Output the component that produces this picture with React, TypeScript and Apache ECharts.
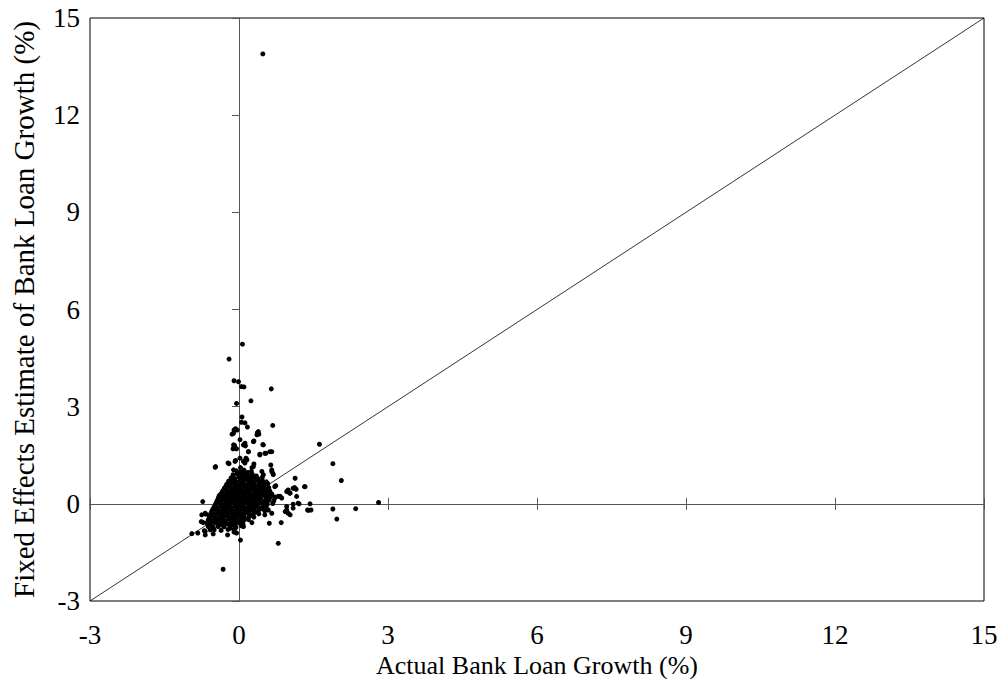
import React, { useEffect, useRef } from "react";
import * as echarts from "echarts";

const xTickLabels = ["-3", "0", "3", "6", "9", "12", "15"];
const yTickLabels = ["-3", "0", "3", "6", "9", "12", "15"];
const xName = "Actual Bank Loan Growth (%)";
const yName = "Fixed Effects Estimate of Bank Loan Growth (%)";

const diagonalLine: [number, number][] = [[-3, -3], [15, 15]];

const outlierPoints: [number, number][] = [
  [0.48, 13.89], [0.07, 4.93], [-0.2, 4.47], [-0.1, 3.8], [-0.01, 3.77], [0.05, 3.62], [0.1, 3.61],
  [0.65, 3.55], [-0.05, 3.1], [0.24, 3.18], [0.06, 2.68], [0.05, 2.52], [0.12, 2.5], [0.68, 2.42],
  [0.17, 2.37], [-0.07, 2.32], [-0.04, 2.28], [-0.1, 2.28], [-0.14, 2.15], [0.37, 2.2], [0.4, 2.15],
  [0.36, 2.13], [0.3, 1.94], [-0.09, 1.8], [-0.12, 1.7], [-0.05, 1.7], [0.48, 1.83], [0.13, 1.79],
  [0.62, 1.61], [0.54, 1.56], [0.42, 1.53], [0.19, 1.61], [0.14, 1.41], [0.16, 1.36], [0.12, 1.32],
  [1.62, 1.84], [-0.47, 1.15], [-0.2, 1.24], [-0.07, 1.34], [0.03, 1.12], [0.3, 1.23], [0.26, 1.12],
  [0.64, 1.2], [0.66, 1.0], [0.68, 0.95], [1.89, 1.24], [2.06, 0.72], [1.13, 0.79], [1.32, 0.53],
  [0.99, 0.43], [1.02, 0.33], [1.12, 0.5], [1.15, 0.45], [0.74, 0.56], [0.83, 0.23], [1.19, 0.02],
  [1.43, 0.0], [1.38, -0.19], [1.45, -0.19], [1.89, -0.16], [1.97, -0.47], [2.35, -0.15], [2.81, 0.04],
  [1.09, -0.01], [0.96, -0.19], [0.99, -0.29], [0.85, -0.58], [0.61, -0.6], [0.79, -1.22], [0.03, -1.12],
  [-0.32, -2.02], [-0.73, 0.07], [-0.95, -0.92], [-0.83, -0.9], [-0.68, -0.96], [-0.52, -0.93],
  [-0.7, -0.83], [-0.58, -0.8], [-0.23, -0.96], [-0.1, -0.87], [-0.72, -0.58], [-0.67, -0.32], [-0.76, -0.55],
  [0.72, 0.53], [1.09, 0.48], [1.33, 0.53], [0.96, 0.38], [1.03, 0.33], [1.16, 0.23], [0.66, 0.28],
  [0.72, 0.18], [0.79, 0.23], [0.86, 0.18], [1.21, 0.0], [0.96, -0.08], [1.09, -0.13], [1.4, -0.2],
  [0.93, -0.24], [1.03, -0.34], [0.59, -0.19], [0.66, -0.29], [0.52, -0.34], [0.26, -0.58], [0.09, -0.7],
  [-0.38, 0.18], [-0.25, 0.28], [-0.68, -0.29], [-0.75, -0.34], [-0.64, -0.58], [-0.52, -0.55],
  [-0.42, -0.49], [-0.68, -0.85], [-0.42, -0.7], [-0.18, -0.75], [-0.08, -0.75], [-0.05, -0.9],
  [-0.48, 1.13], [-0.22, 1.26], [-0.08, 1.31], [-0.11, 1.05], [0.02, 1.41], [0.09, 1.31], [0.12, 1.26],
  [-0.08, 1.72], [-0.11, 1.82], [0.09, 1.82], [0.12, 1.87], [0.29, 1.92], [0.19, 1.61], [0.42, 1.51],
  [0.52, 1.56], [0.66, 1.61], [0.49, 1.82], [0.29, 1.15], [0.46, 1.0], [0.49, 0.9], [0.66, 1.05],
  [0.69, 0.9], [0.39, 2.23], [-0.11, 2.18], [0.02, 1.98],
];

const clusterPoints: [number, number][] = [
  [-0.05, 1.02], [0.03, 0.98], [0.1, 1.04], [0.18, 0.97], [0.25, 1.0],
  [-0.12, 0.9], [-0.04, 0.93], [0.04, 0.88], [0.11, 0.92], [0.19, 0.87], [0.27, 0.91], [0.35, 0.86],
  [-0.16, 0.8], [-0.08, 0.78], [0.0, 0.82], [0.07, 0.79], [0.15, 0.83], [0.22, 0.77], [0.3, 0.8], [0.38, 0.78], [0.47, 0.82],
  [-0.21, 0.7], [-0.13, 0.72], [-0.06, 0.68], [0.02, 0.71], [0.09, 0.69], [0.17, 0.73], [0.24, 0.68], [0.31, 0.71], [0.39, 0.69], [0.47, 0.72], [0.55, 0.68],
  [-0.25, 0.6], [-0.18, 0.58], [-0.1, 0.62], [-0.03, 0.59], [0.05, 0.61], [0.12, 0.58], [0.19, 0.62], [0.26, 0.6], [0.33, 0.57], [0.41, 0.61], [0.5, 0.59], [0.58, 0.62],
  [-0.29, 0.5], [-0.22, 0.52], [-0.14, 0.48], [-0.07, 0.51], [0.0, 0.49], [0.07, 0.52], [0.14, 0.5], [0.21, 0.47], [0.28, 0.51], [0.35, 0.49], [0.43, 0.52], [0.52, 0.48], [0.6, 0.5],
  [-0.33, 0.4], [-0.26, 0.42], [-0.19, 0.38], [-0.12, 0.41], [-0.05, 0.39], [0.02, 0.42], [0.09, 0.38], [0.16, 0.41], [0.23, 0.39], [0.3, 0.42], [0.37, 0.38], [0.45, 0.41], [0.53, 0.39], [0.62, 0.4],
  [-0.37, 0.3], [-0.3, 0.28], [-0.23, 0.32], [-0.16, 0.29], [-0.09, 0.31], [-0.02, 0.28], [0.05, 0.32], [0.12, 0.29], [0.19, 0.31], [0.26, 0.28], [0.33, 0.32], [0.41, 0.29], [0.49, 0.31], [0.57, 0.28], [0.66, 0.31],
  [-0.41, 0.2], [-0.34, 0.22], [-0.27, 0.18], [-0.2, 0.21], [-0.13, 0.19], [-0.06, 0.22], [0.01, 0.18], [0.08, 0.21], [0.15, 0.19], [0.22, 0.22], [0.29, 0.18], [0.36, 0.21], [0.44, 0.19], [0.53, 0.22], [0.63, 0.2], [0.73, 0.21],
  [-0.44, 0.1], [-0.37, 0.08], [-0.3, 0.12], [-0.23, 0.09], [-0.16, 0.11], [-0.09, 0.08], [-0.02, 0.12], [0.05, 0.09], [0.12, 0.11], [0.19, 0.08], [0.26, 0.12], [0.33, 0.09], [0.41, 0.11], [0.5, 0.08], [0.6, 0.11], [0.7, 0.09],
  [-0.47, 0.0], [-0.4, 0.02], [-0.33, -0.02], [-0.26, 0.01], [-0.19, -0.01], [-0.12, 0.02], [-0.05, -0.02], [0.02, 0.01], [0.09, -0.01], [0.16, 0.02], [0.23, -0.02], [0.3, 0.01], [0.38, -0.01], [0.47, 0.02], [0.57, -0.01], [0.68, 0.01],
  [-0.5, -0.1], [-0.43, -0.12], [-0.36, -0.08], [-0.29, -0.11], [-0.22, -0.09], [-0.15, -0.12], [-0.08, -0.08], [-0.01, -0.11], [0.06, -0.09], [0.13, -0.12], [0.2, -0.08], [0.27, -0.11], [0.35, -0.09], [0.44, -0.12], [0.55, -0.1],
  [-0.54, -0.2], [-0.47, -0.18], [-0.4, -0.22], [-0.33, -0.19], [-0.26, -0.21], [-0.19, -0.18], [-0.12, -0.22], [-0.05, -0.19], [0.02, -0.21], [0.09, -0.18], [0.16, -0.22], [0.23, -0.19], [0.31, -0.21], [0.41, -0.18], [0.52, -0.22],
  [-0.57, -0.3], [-0.5, -0.32], [-0.43, -0.28], [-0.36, -0.31], [-0.29, -0.29], [-0.22, -0.32], [-0.15, -0.28], [-0.08, -0.31], [-0.01, -0.29], [0.06, -0.32], [0.13, -0.28], [0.21, -0.31], [0.3, -0.29], [0.4, -0.31],
  [-0.6, -0.4], [-0.53, -0.38], [-0.46, -0.42], [-0.39, -0.39], [-0.32, -0.41], [-0.25, -0.38], [-0.18, -0.42], [-0.11, -0.39], [-0.04, -0.41], [0.03, -0.38], [0.11, -0.42], [0.2, -0.4], [0.3, -0.41],
  [-0.62, -0.5], [-0.55, -0.52], [-0.48, -0.48], [-0.41, -0.51], [-0.34, -0.49], [-0.27, -0.52], [-0.2, -0.48], [-0.13, -0.51], [-0.06, -0.49], [0.02, -0.52], [0.1, -0.5], [0.19, -0.49],
  [-0.64, -0.6], [-0.56, -0.62], [-0.48, -0.58], [-0.4, -0.61], [-0.32, -0.59], [-0.24, -0.62], [-0.16, -0.58], [-0.08, -0.61], [0.0, -0.59], [0.08, -0.62],
  [-0.62, -0.7], [-0.52, -0.72], [-0.42, -0.68], [-0.3, -0.71], [-0.18, -0.69], [-0.06, -0.72], [0.05, -0.68],
  [-0.5, -0.8], [-0.36, -0.82], [-0.22, -0.79], [-0.1, -0.8],
  [-0.02, 0.95], [0.14, 0.95], [0.06, 0.85], [0.23, 0.84], [-0.1, 0.75], [0.13, 0.76], [0.34, 0.75],
  [-0.16, 0.65], [0.08, 0.64], [0.28, 0.65], [0.45, 0.66], [-0.25, 0.55], [0.04, 0.55], [0.24, 0.55], [0.47, 0.55],
  [-0.3, 0.45], [-0.02, 0.45], [0.19, 0.45], [0.41, 0.46], [0.58, 0.45], [-0.34, 0.35], [-0.06, 0.35],
  [0.15, 0.35], [0.37, 0.34], [0.54, 0.35], [-0.4, 0.25], [-0.1, 0.25], [0.11, 0.26], [0.33, 0.25], [0.6, 0.25],
  [-0.42, 0.15], [-0.13, 0.15], [0.09, 0.15], [0.3, 0.14], [0.56, 0.15], [-0.45, 0.05], [-0.16, 0.05],
  [0.06, 0.05], [0.27, 0.05], [0.53, 0.05], [-0.48, -0.05], [-0.21, -0.05], [0.04, -0.05], [0.24, -0.05],
  [0.5, -0.05], [-0.52, -0.15], [-0.26, -0.15], [-0.02, -0.15], [0.2, -0.15], [0.47, -0.15],
  [-0.55, -0.25], [-0.3, -0.25], [-0.05, -0.25], [0.17, -0.25], [0.36, -0.25], [-0.58, -0.35], [-0.34, -0.35],
  [-0.12, -0.35], [0.09, -0.35], [0.25, -0.35], [-0.58, -0.45], [-0.37, -0.45], [-0.15, -0.45], [0.06, -0.45],
  [-0.6, -0.55], [-0.38, -0.55], [-0.1, -0.55], [0.06, -0.56], [-0.58, -0.65], [-0.36, -0.65], [-0.12, -0.65],
];

const FONT = "'Liberation Serif', 'Times New Roman', serif";

export default function App() {
  const ref = useRef<HTMLDivElement>(null);
  useEffect(() => {
    if (!ref.current) return;
    const chart = echarts.init(ref.current, null, { renderer: "svg" });
    const tickStyle = { fontFamily: FONT, fontSize: 27, color: "#000" };
    const base = { type: "value" as const, min: -3, max: 15, interval: 3, splitLine: { show: false } };
    const zeroLine = { show: true, onZero: true, onZeroAxisIndex: 0, lineStyle: { color: "#555", width: 1 } };
    chart.setOption({
      animation: false,
      backgroundColor: "#fff",
      grid: {
        left: 90, right: 13, top: 18, bottom: 78, show: true, borderColor: "#000", borderWidth: 1,
        backgroundColor: "transparent", containLabel: false, outerBoundsMode: "none",
      },
      xAxis: [
        {
          ...base, position: "bottom",
          axisLine: { show: false }, axisTick: { show: false },
          axisLabel: { ...tickStyle, margin: 20, formatter: (v: number) => xTickLabels[Math.round((v + 3) / 3)] ?? String(v) },
          name: xName, nameLocation: "middle", nameGap: 46,
          nameTextStyle: { fontFamily: FONT, fontSize: 26, color: "#000" },
        },
        { ...base, position: "bottom", axisLine: zeroLine, axisTick: { show: true, inside: false, length: 6, lineStyle: { color: "#555" } }, axisLabel: { show: false } },
        { ...base, position: "bottom", axisLine: zeroLine, axisTick: { show: true, inside: true, length: 6, lineStyle: { color: "#555" } }, axisLabel: { show: false } },
      ],
      yAxis: [
        {
          ...base, position: "left",
          axisLine: { show: false }, axisTick: { show: false },
          axisLabel: { ...tickStyle, margin: 10, formatter: (v: number) => yTickLabels[Math.round((v + 3) / 3)] ?? String(v) },
          name: yName, nameLocation: "middle", nameGap: 52, nameRotate: 90,
          nameTextStyle: { fontFamily: FONT, fontSize: 29, color: "#000" },
        },
        { ...base, position: "left", axisLine: zeroLine, axisTick: { show: true, inside: false, length: 7, lineStyle: { color: "#555" } }, axisLabel: { show: false } },
      ],
      series: [
        {
          type: "line", data: diagonalLine, xAxisIndex: 0, yAxisIndex: 0, symbol: "none", silent: true,
          lineStyle: { color: "#000", width: 0.8 },
        },
        {
          type: "scatter", data: [...clusterPoints, ...outlierPoints], xAxisIndex: 0, yAxisIndex: 0,
          symbolSize: 5, itemStyle: { color: "#000", opacity: 1 },
        },
      ],
    });
    return () => chart.dispose();
  }, []);
  return <div ref={ref} style={{ width: 997, height: 679, position: "absolute", left: 0, top: 0 }} />;
}
